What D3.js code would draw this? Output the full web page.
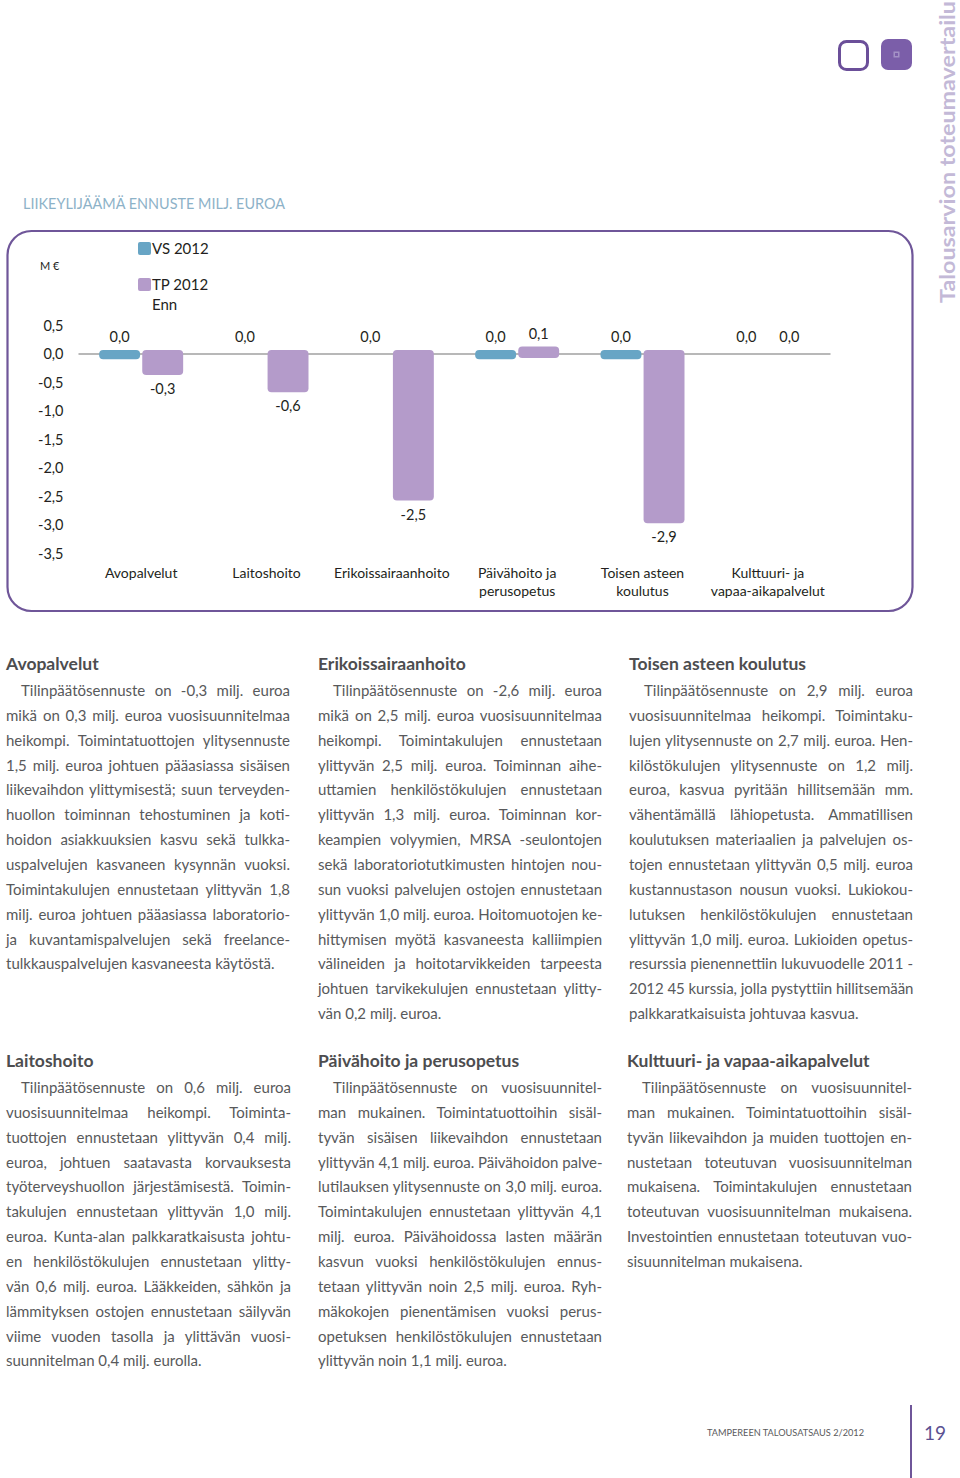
<!DOCTYPE html>
<html><head><meta charset="utf-8">
<script src="https://cdn.jsdelivr.net/npm/d3@7"></script>
<style>
html,body{margin:0;padding:0;background:#fff;}
body{width:960px;height:1478px;position:relative;overflow:hidden;font-family:Lato,"Open Sans",sans-serif;}
svg{position:absolute;left:0;top:0;}
.line{position:absolute;white-space:nowrap;font-size:15px;color:#58595b;line-height:18px;}
.head{position:absolute;white-space:nowrap;font-size:17.5px;font-weight:bold;color:#4d4d4f;line-height:18px;}
</style></head><body>
<svg id="chart" width="960" height="1478"></svg>
<script>
// ---------- data ----------
const categories = ["Avopalvelut", "Laitoshoito", "Erikoissairaanhoito", "Päivähoito ja perusopetus", "Toisen asteen koulutus", "Kulttuuri- ja vapaa-aikapalvelut"];
const categoryLines = [["Avopalvelut"], ["Laitoshoito"], ["Erikoissairaanhoito"], ["Päivähoito ja", "perusopetus"], ["Toisen asteen", "koulutus"], ["Kulttuuri- ja", "vapaa-aikapalvelut"]];
const seriesKeys = ["VS", "TP"];
const seriesLabelLines = [["VS 2012"], ["TP 2012", "Enn"]];
const vsValues = [-0.02, 0, 0, -0.02, -0.02, 0];
const tpValues = [-0.3, -0.6, -2.5, 0.06, -2.9, 0];
const yTicks = [0.5, 0, -0.5, -1.0, -1.5, -2.0, -2.5, -3.0, -3.5];
const seriesColors = ["#68a5c5", "#b49bca"];

const chartTitle = "LIIKEYLIJÄÄMÄ ENNUSTE MILJ. EUROA";
const unitLabel = "M €";
const sideTitle = "Talousarvion toteumavertailu";
const footerText = "TAMPEREEN TALOUSATSAUS 2/2012";
const pageNumber = "19";

const blocks = [
 {title:"Avopalvelut", x:6, w:284, hy:664, lines:[
  "Tilinpäätösennuste on -0,3 milj. euroa",
  "mikä on 0,3 milj. euroa vuosisuunnitelmaa",
  "heikompi. Toimintatuottojen ylitysennuste",
  "1,5 milj. euroa johtuen pääasiassa sisäisen",
  "liikevaihdon ylittymisestä; suun terveyden-",
  "huollon toiminnan tehostuminen ja koti-",
  "hoidon asiakkuuksien kasvu sekä tulkka-",
  "uspalvelujen kasvaneen kysynnän vuoksi.",
  "Toimintakulujen ennustetaan ylittyvän 1,8",
  "milj. euroa johtuen pääasiassa laboratorio-",
  "ja kuvantamispalvelujen sekä freelance-",
  "tulkkauspalvelujen kasvaneesta käytöstä."]},
 {title:"Erikoissairaanhoito", x:318, w:284, hy:664, lines:[
  "Tilinpäätösennuste on -2,6 milj. euroa",
  "mikä on 2,5 milj. euroa vuosisuunnitelmaa",
  "heikompi. Toimintakulujen ennustetaan",
  "ylittyvän 2,5 milj. euroa. Toiminnan aihe-",
  "uttamien henkilöstökulujen ennustetaan",
  "ylittyvän 1,3 milj. euroa. Toiminnan kor-",
  "keampien volyymien, MRSA -seulontojen",
  "sekä laboratoriotutkimusten hintojen nou-",
  "sun vuoksi palvelujen ostojen ennustetaan",
  "ylittyvän 1,0 milj. euroa. Hoitomuotojen ke-",
  "hittymisen myötä kasvaneesta kalliimpien",
  "välineiden ja hoitotarvikkeiden tarpeesta",
  "johtuen tarvikekulujen ennustetaan ylitty-",
  "vän 0,2 milj. euroa."]},
 {title:"Toisen asteen koulutus", x:629, w:284, hy:664, lines:[
  "Tilinpäätösennuste on 2,9 milj. euroa",
  "vuosisuunnitelmaa heikompi. Toimintaku-",
  "lujen ylitysennuste on 2,7 milj. euroa. Hen-",
  "kilöstökulujen ylitysennuste on 1,2 milj.",
  "euroa, kasvua pyritään hillitsemään mm.",
  "vähentämällä lähiopetusta. Ammatillisen",
  "koulutuksen materiaalien ja palvelujen os-",
  "tojen ennustetaan ylittyvän 0,5 milj. euroa",
  "kustannustason nousun vuoksi. Lukiokou-",
  "lutuksen henkilöstökulujen ennustetaan",
  "ylittyvän 1,0 milj. euroa. Lukioiden opetus-",
  "resurssia pienennettiin lukuvuodelle 2011 -",
  "2012 45 kurssia, jolla pystyttiin hillitsemään",
  "palkkaratkaisuista johtuvaa kasvua."]},
 {title:"Laitoshoito", x:6, w:285, hy:1061, lines:[
  "Tilinpäätösennuste on 0,6 milj. euroa",
  "vuosisuunnitelmaa heikompi. Toiminta-",
  "tuottojen ennustetaan ylittyvän 0,4 milj.",
  "euroa, johtuen saatavasta korvauksesta",
  "työterveyshuollon järjestämisestä. Toimin-",
  "takulujen ennustetaan ylittyvän 1,0 milj.",
  "euroa. Kunta-alan palkkaratkaisusta johtu-",
  "en henkilöstökulujen ennustetaan ylitty-",
  "vän 0,6 milj. euroa. Lääkkeiden, sähkön ja",
  "lämmityksen ostojen ennustetaan säilyvän",
  "viime vuoden tasolla ja ylittävän vuosi-",
  "suunnitelman 0,4 milj. eurolla."]},
 {title:"Päivähoito ja perusopetus", x:318, w:284, hy:1061, lines:[
  "Tilinpäätösennuste on vuosisuunnitel-",
  "man mukainen. Toimintatuottoihin sisäl-",
  "tyvän sisäisen liikevaihdon ennustetaan",
  "ylittyvän 4,1 milj. euroa. Päivähoidon palve-",
  "lutilauksen ylitysennuste on 3,0 milj. euroa.",
  "Toimintakulujen ennustetaan ylittyvän 4,1",
  "milj. euroa. Päivähoidossa lasten määrän",
  "kasvun vuoksi henkilöstökulujen ennus-",
  "tetaan ylittyvän noin 2,5 milj. euroa. Ryh-",
  "mäkokojen pienentämisen vuoksi perus-",
  "opetuksen henkilöstökulujen ennustetaan",
  "ylittyvän noin 1,1 milj. euroa."]},
 {title:"Kulttuuri- ja vapaa-aikapalvelut", x:627, w:285, hy:1061, lines:[
  "Tilinpäätösennuste on vuosisuunnitel-",
  "man mukainen. Toimintatuottoihin sisäl-",
  "tyvän liikevaihdon ja muiden tuottojen en-",
  "nustetaan toteutuvan vuosisuunnitelman",
  "mukaisena. Toimintakulujen ennustetaan",
  "toteutuvan vuosisuunnitelman mukaisena.",
  "Investointien ennustetaan toteutuvan vuo-",
  "sisuunnitelman mukaisena."]}
];

// ---------- chart ----------
const FONT = "Lato, 'Open Sans', sans-serif";
const TXT = "#231f20";
const svg = d3.select("#chart").attr("font-family", FONT);
const fi = d3.formatLocale({decimal:",", thousands:"\u00a0", grouping:[3], currency:["","\u00a0€"], minus:"-"});
const f1 = fi.format(".1f");
const fmt = v => f1(Math.abs(v) < 0.05 ? 0 : v);

const x0 = d3.scaleBand().domain(categories).range([78.5, 830.5]);
const x1 = d3.scaleBand().domain(seriesKeys).range([-42, 42]).paddingInner(0.05);
const y = d3.scaleLinear().domain([-3.5, 0.5]).range([553.5, 325.5]);
const color = d3.scaleOrdinal().domain(seriesKeys).range(seriesColors);

// frame
svg.append("rect").attr("x", 7.5).attr("y", 231).attr("width", 905).attr("height", 380)
  .attr("rx", 24).attr("fill", "none").attr("stroke", "#6f5699").attr("stroke-width", 2.2);

// title
svg.append("text").attr("x", 23).attr("y", 209).attr("font-size", 14.5).attr("fill", "#8db2c8")
  .attr("textLength", 262).attr("lengthAdjust", "spacingAndGlyphs").text(chartTitle);

// unit
svg.append("text").attr("x", 40).attr("y", 270).attr("font-size", 11).attr("fill", TXT).text(unitLabel);

// y axis
const yAxis = svg.append("g").attr("transform", "translate(63.5,0)")
  .call(d3.axisLeft(y).tickValues(yTicks).tickFormat(f1).tickSize(0).tickPadding(0));
yAxis.select(".domain").remove();
yAxis.selectAll("text").attr("font-size", 14.5).attr("fill", TXT).attr("font-family", FONT);

// zero line
svg.append("line").attr("x1", x0.range()[0]).attr("x2", x0.range()[1])
  .attr("y1", y(0)).attr("y2", y(0)).attr("stroke", "#a0a0a0").attr("stroke-width", 1.6);

// bars
const data = categories.map((c, i) => ({cat: c, values: [{key:"VS", v: vsValues[i]}, {key:"TP", v: tpValues[i]}]}));
const groups = svg.append("g").selectAll("g").data(data).join("g")
  .attr("transform", d => `translate(${x0(d.cat) + x0.bandwidth() / 2},0)`);

groups.selectAll("rect").data(d => d.values.filter(e => e.v !== 0)).join("rect")
  .attr("x", d => x1(d.key)).attr("width", x1.bandwidth())
  .attr("y", d => y(Math.max(d.v, 0)) - 4)
  .attr("height", d => Math.abs(y(d.v) - y(0)) + 8)
  .attr("rx", 4).attr("fill", d => color(d.key));

groups.selectAll("text.val").data(d => d.values).join("text").attr("class", "val")
  .attr("x", d => x1(d.key) + x1.bandwidth() / 2)
  .attr("y", d => d.v > -0.05 ? y(Math.max(d.v, 0)) - 12 : y(d.v) + 23)
  .attr("text-anchor", "middle").attr("font-size", 14.5).attr("fill", TXT)
  .text(d => fmt(d.v));

// category labels
groups.each(function(d, i) {
  const g = d3.select(this);
  categoryLines[i].forEach((t, j) => {
    g.append("text").attr("x", 0).attr("y", 578 + j * 18).attr("text-anchor", "middle")
      .attr("font-size", 14).attr("fill", TXT).text(t);
  });
});

// legend
const legend = svg.append("g").attr("transform", "translate(138,242)");
seriesKeys.forEach((k, i) => {
  const lg = legend.append("g").attr("transform", `translate(0,${i * 36})`);
  lg.append("rect").attr("width", 13).attr("height", 13).attr("rx", 2).attr("fill", color(k));
  seriesLabelLines[i].forEach((t, j) => {
    lg.append("text").attr("x", 14).attr("y", 12 + j * 20).attr("font-size", 15).attr("fill", TXT).text(t);
  });
});

// side title
svg.append("text").attr("transform", "translate(955,303) rotate(-90)")
  .attr("font-size", 21).attr("font-weight", "bold").attr("fill", "#c3b9d7")
  .attr("textLength", 302).attr("lengthAdjust", "spacingAndGlyphs").text(sideTitle);

// icons
svg.append("rect").attr("x", 839.5).attr("y", 41.5).attr("width", 28).attr("height", 28).attr("rx", 7)
  .attr("fill", "none").attr("stroke", "#6b4f99").attr("stroke-width", 3);
svg.append("rect").attr("x", 881).attr("y", 39).attr("width", 31).attr("height", 31).attr("rx", 7).attr("fill", "#7b5ea9");
svg.append("rect").attr("x", 893.5).attr("y", 51.5).attr("width", 6).attr("height", 6).attr("fill", "#a491c6");
svg.append("rect").attr("x", 895).attr("y", 53).attr("width", 3).attr("height", 3).attr("fill", "#7b5ea9");

// footer
svg.append("text").attr("x", 707).attr("y", 1436).attr("font-size", 10).attr("fill", "#5a5a5c")
  .attr("textLength", 157).attr("lengthAdjust", "spacingAndGlyphs").text(footerText);
svg.append("line").attr("x1", 911).attr("x2", 911).attr("y1", 1405).attr("y2", 1478)
  .attr("stroke", "#6f5699").attr("stroke-width", 2);
svg.append("text").attr("x", 924).attr("y", 1440).attr("font-size", 19).attr("fill", "#5b5192").text(pageNumber);

// ---------- text columns ----------
const body = d3.select("body");
blocks.forEach(b => {
  body.append("div").attr("class", "head").style("left", b.x + "px").style("top", (b.hy - 9) + "px").text(b.title);
  b.lines.forEach((t, i) => {
    const indent = i === 0 ? 15 : 0;
    const avail = b.w - indent;
    const div = body.append("div").attr("class", "line")
      .style("left", (b.x + indent) + "px").style("top", (b.hy + 26 + i * 24.85 - 9) + "px");
    const span = div.append("span").text(t);
    const w = span.node().getBoundingClientRect().width;
    const last = i === b.lines.length - 1;
    const spaces = (t.match(/ /g) || []).length;
    if (w > avail) span.style("letter-spacing", ((avail - w) / t.length) + "px");
    else if (!last && spaces > 0) span.style("word-spacing", ((avail - w) / spaces) + "px");
  });
});
</script>
</body></html>
